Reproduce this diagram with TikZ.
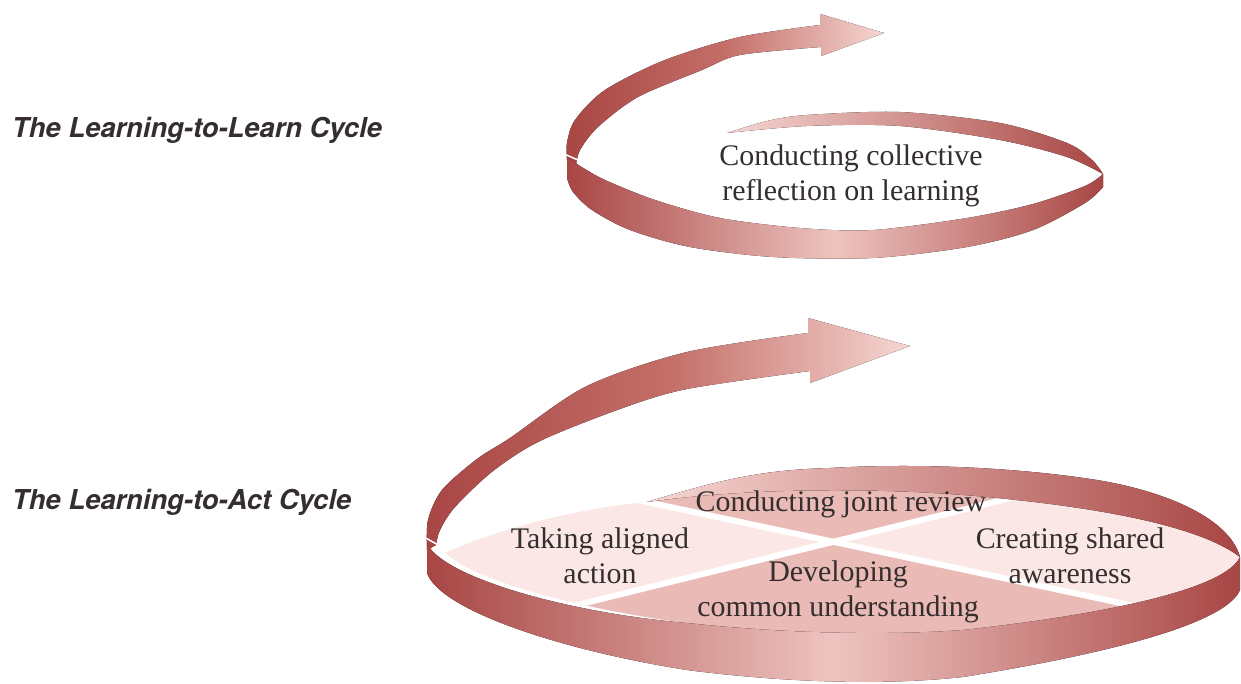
\documentclass[tikz,border=0pt]{standalone}
\usepackage{fontspec}
\setmainfont{Liberation Serif}
\newfontfamily\headfont{TeX Gyre Heros}

\definecolor{ribdark}{RGB}{168,70,68}
\definecolor{ribmid}{RGB}{196,110,104}
\definecolor{riblight}{RGB}{246,214,210}
\definecolor{bandlight}{RGB}{238,196,192}
\definecolor{discpale}{RGB}{251,232,230}
\definecolor{wedgepink}{RGB}{234,186,182}
\definecolor{textgrey}{RGB}{52,46,46}

\begin{document}
\begin{tikzpicture}[x=1bp,y=-1bp]

% Looks
\tikzset{
    frontband/.style={left color=ribdark, right color=ribdark, middle color=bandlight},
    backband/.style={left color=riblight, right color=ribdark},
    armband/.style={left color=ribdark, right color=riblight, middle color=ribmid},
    stagetext/.style={font=\fontsize{30}{35}\selectfont, text=textgrey, align=center, inner sep=0pt},
    cyclelabel/.style={font=\headfont\bfseries\itshape\fontsize{27.5}{30}\selectfont, text=textgrey, anchor=west, inner sep=0pt},
    divider/.style={white, line width=6bp},
}

\useasboundingbox (0,0) rectangle (1241,684);

% Left labels
\node[cyclelabel] (learnlabel) at (12,130) {The Learning-to-Learn Cycle};
\node[cyclelabel] (actlabel) at (12,502) {The Learning-to-Act Cycle};

% Upper spiral
\fill[backband] plot[smooth] coordinates {(727,133) (767,121) (807,115) (900,112) (1000,123) (1067,143) (1092,160) (1103,174)}
    -- plot[smooth] coordinates {(1103,174) (1067,157) (1000,140) (900,126) (807,126) (727,133)} -- cycle;
\fill[armband] plot[smooth] coordinates {(567,160) (567,143) (575,120) (605,90) (665,60) (740,37) (820,25)}
    -- (820,14) -- (884,33) -- (821,56) -- (821,47)
    -- plot[smooth] coordinates {(821,47) (740,55) (702,70) (638,97) (598,127) (580,150) (576,165)} -- cycle;
\fill[frontband] plot[smooth] coordinates {(567,157) (580,166) (605,180) (655,200) (720,218) (800,228) (873,230) (967,218) (1033,204) (1085,186) (1103,174)}
    -- (1103,187)
    -- plot[smooth] coordinates {(1103,187) (1085,203) (1033,230) (967,247) (873,258) (773,257) (690,247) (630,230) (592,210) (573,192) (567,178)} -- cycle;
\draw[white, line width=1.5bp] (564,154) -- (578,160);

\node[stagetext] (reflect) at (851,176) {Conducting collective\\reflection on learning};

% Lower spiral: disc with four parts
\begin{scope}
    \clip (445,553) .. controls (500,528) and (580,508) .. (647,502)
        .. controls (720,480) and (760,470) .. (830,468)
        .. controls (900,464) and (1000,465) .. (1097,480)
        .. controls (1170,492) and (1230,520) .. (1240,557)
        .. controls (1225,590) and (1100,615) .. (963,630)
        .. controls (880,636) and (760,633) .. (687,623)
        .. controls (600,612) and (480,585) .. (445,553) -- cycle;
    \fill[discpale] (400,440) rectangle (1241,684);
    \fill[wedgepink] (838,542) -- (600,492) -- (600,400) -- (1100,400) -- (1100,476) -- cycle;
    \fill[wedgepink] (838,542) -- (500,624) -- (500,700) -- (1200,700) -- (1200,620) -- cycle;
    \draw[divider] (600,492) -- (1200,620);
    \draw[divider] (500,624) -- (1100,476);
\end{scope}

\fill[backband] (647,502) .. controls (720,480) and (760,470) .. (830,468)
    .. controls (900,464) and (1000,465) .. (1097,480)
    .. controls (1170,492) and (1230,520) .. (1240,557)
    .. controls (1205,530) and (1120,510) .. (997,498)
    .. controls (900,488) and (760,486) .. (647,502) -- cycle;
\fill[armband] plot[smooth] coordinates {(427,550) (428,520) (442,490) (477,459) (510,438) (587,386) (687,352) (808,333)}
    -- (808,318) -- (910,346) -- (810,383) -- (810,371)
    -- plot[smooth] coordinates {(810,371) (687,389) (620,409) (540,441) (493,471) (455,507) (440,530) (436,545)} -- cycle;
\fill[frontband] (427,543) .. controls (440,575) and (560,612) .. (687,623)
    .. controls (780,633) and (880,636) .. (963,630)
    .. controls (1100,615) and (1225,590) .. (1240,557) -- (1240,590)
    .. controls (1225,625) and (1100,655) .. (963,677)
    .. controls (880,686) and (780,682) .. (687,670)
    .. controls (560,650) and (440,610) .. (427,573) -- cycle;
\draw[white, line width=1.5bp] (424,537) -- (440,546);

\node[stagetext] (review) at (841,504) {Conducting joint review};
\node[stagetext] (aligned) at (600,556) {Taking aligned\\action};
\node[stagetext] (shared) at (1070,556) {Creating shared\\awareness};
\node[stagetext] (common) at (838,592) {Developing\\common understanding};

\end{tikzpicture}
\end{document}
